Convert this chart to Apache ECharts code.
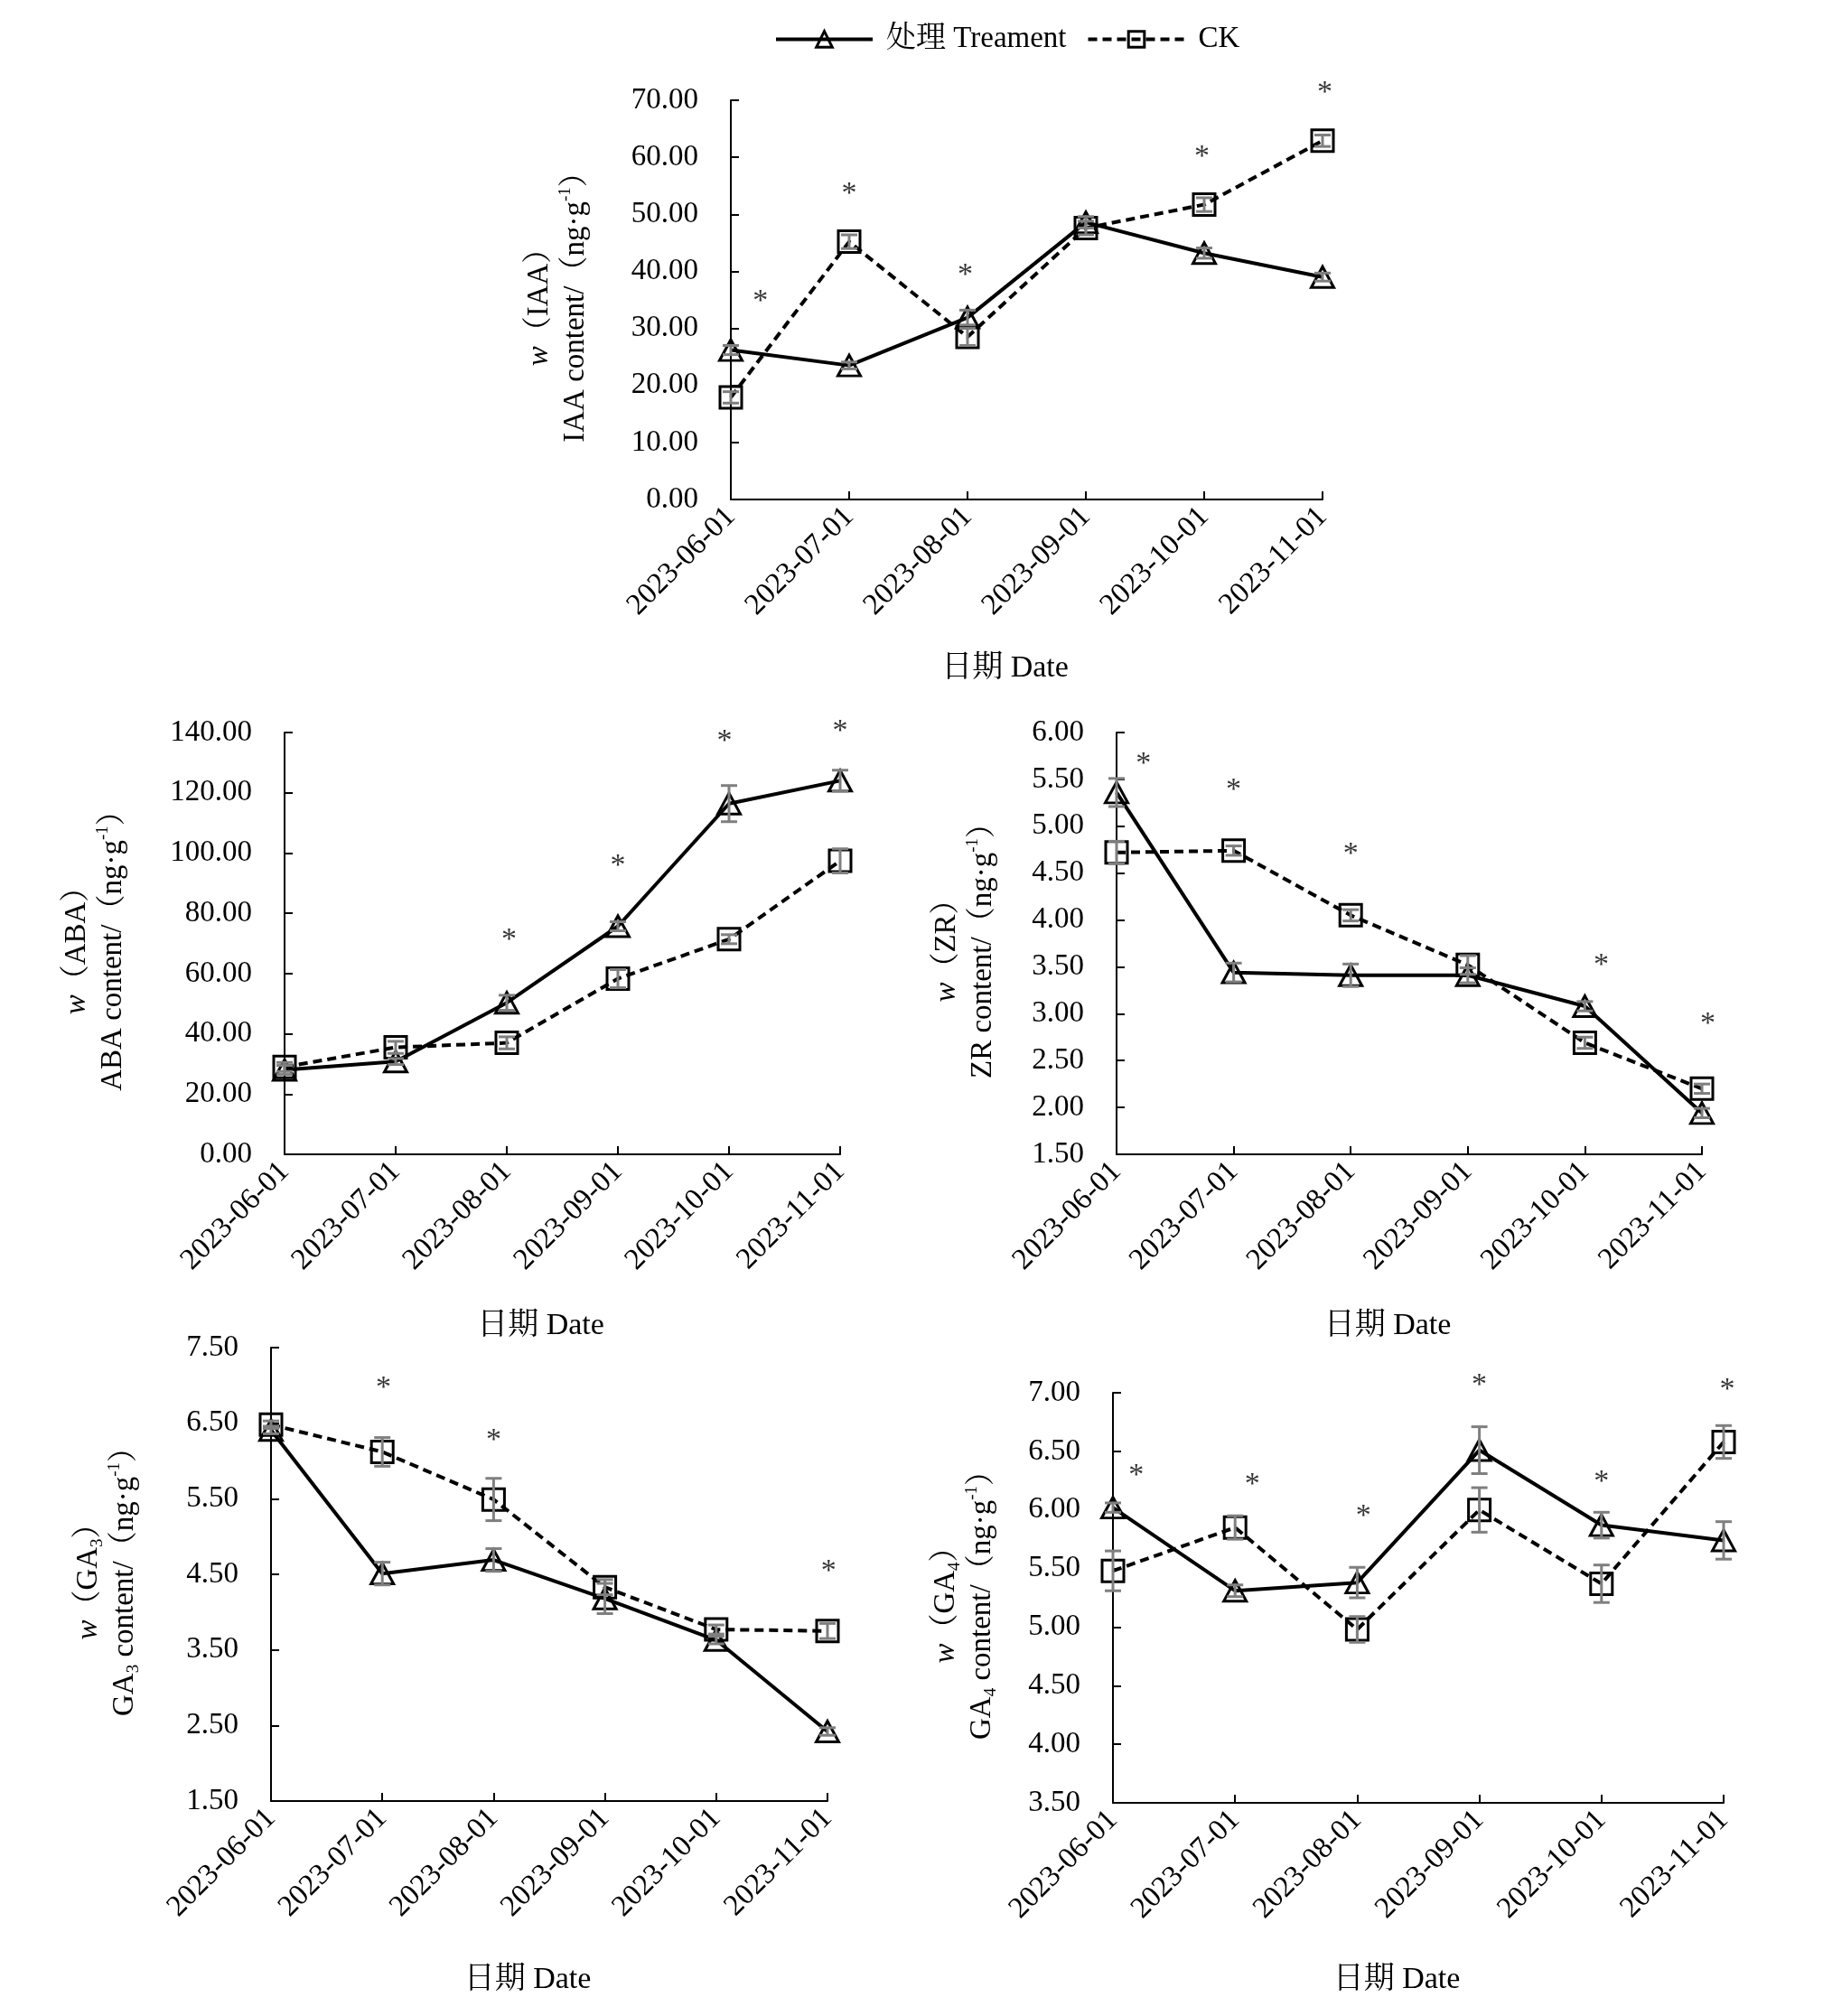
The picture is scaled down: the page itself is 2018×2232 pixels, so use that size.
<!DOCTYPE html>
<html>
<head>
<meta charset="utf-8">
<title>植物激素含量变化</title>
<script src="https://cdn.jsdelivr.net/npm/echarts@6/dist/echarts.min.js"></script>
<style>
  html, body { margin: 0; padding: 0; background: #fff; }
  #main { width: 2018px; height: 2232px; }
</style>
</head>
<body>
<div id="main"></div>
<script>
// 日期
var dates = ['2023-06-01', '2023-07-01', '2023-08-01', '2023-09-01', '2023-10-01', '2023-11-01'];

// IAA
var iaaTreat = [26.2, 23.5, 31.9, 48.6, 43.2, 39.0];
var iaaTreatErr = [0.8, 0.6, 1.3, 1.0, 0.9, 0.7];
var iaaCk = [17.9, 45.2, 28.5, 47.6, 51.7, 62.9];
var iaaCkErr = [1.0, 1.2, 1.5, 1.2, 1.2, 1.0];
var iaaStarX = [0.25, 1.0, 1.98, 3.98, 5.02];
var iaaStarY = [35.7, 54.5, 40.2, 60.9, 72.2];

// ABA
var abaTreat = [28.0, 30.8, 50.3, 75.7, 116.4, 124.0];
var abaTreatErr = [1.5, 1.0, 2.5, 1.5, 6.0, 3.5];
var abaCk = [29.0, 35.5, 37.0, 58.3, 71.4, 97.4];
var abaCkErr = [1.5, 2.0, 2.0, 3.0, 1.5, 4.0];
var abaStarX = [2.02, 3.0, 3.96, 5.0];
var abaStarY = [72.8, 97.4, 138.8, 142.2];

// ZR
var zrTreat = [5.36, 3.44, 3.41, 3.41, 3.08, 1.94];
var zrTreatErr = [0.15, 0.10, 0.12, 0.08, 0.05, 0.05];
var zrCk = [4.72, 4.74, 4.05, 3.52, 2.69, 2.20];
var zrCkErr = [0.12, 0.05, 0.06, 0.10, 0.06, 0.05];
var zrStarX = [0.23, 1.0, 2.0, 4.14, 5.05];
var zrStarY = [5.72, 5.44, 4.76, 3.57, 2.94];

// GA3
var ga3Treat = [6.41, 4.51, 4.69, 4.18, 3.63, 2.42];
var ga3TreatErr = [0.05, 0.15, 0.15, 0.20, 0.05, 0.05];
var ga3Ck = [6.48, 6.12, 5.49, 4.33, 3.77, 3.75];
var ga3CkErr = [0.05, 0.19, 0.28, 0.10, 0.06, 0.10];
var ga3StarX = [1.01, 2.0, 5.01];
var ga3StarY = [7.03, 6.34, 4.61];
var ga3Ticks = [1.5, 2.5, 3.5, 4.5, 5.5, 6.5, 7.5];

// GA4
var ga4Treat = [6.02, 5.31, 5.38, 6.51, 5.87, 5.74];
var ga4TreatErr = [0.04, 0.05, 0.13, 0.20, 0.11, 0.16];
var ga4Ck = [5.48, 5.85, 4.98, 6.00, 5.37, 6.58];
var ga4CkErr = [0.17, 0.10, 0.11, 0.19, 0.16, 0.14];
var ga4StarX = [0.19, 1.14, 2.05, 3.0, 4.0, 5.03];
var ga4StarY = [6.34, 6.26, 5.99, 7.11, 6.28, 7.07];

var FONT = '"Liberation Serif", "Times New Roman", "Noto Serif CJK SC", "Noto Sans CJK SC", serif';
var TREAT = '处理 Treament';
var CK = 'CK';

var myChart = echarts.init(document.getElementById('main'));

//误差线
function renderErr(params, api) {
    var x = api.value(0), y = api.value(1), e = api.value(2);
    var top = api.coord([x, y + e]);
    var bot = api.coord([x, y - e]);
    var w = 9;
    var st = { stroke: '#7f7f7f', lineWidth: 3 };
    return {
        type: 'group',
        children: [
            { type: 'line', shape: { x1: top[0], y1: top[1], x2: bot[0], y2: bot[1] }, style: st },
            { type: 'line', shape: { x1: top[0] - w, y1: top[1], x2: top[0] + w, y2: top[1] }, style: st },
            { type: 'line', shape: { x1: bot[0] - w, y1: bot[1], x2: bot[0] + w, y2: bot[1] }, style: st }
        ]
    };
}

var grids = [], xAxes = [], yAxes = [], series = [];

var richName = {
    i: { fontStyle: 'italic', fontSize: 33, fontFamily: FONT, lineHeight: 40 },
    sup: { fontSize: 19, fontFamily: FONT, verticalAlign: 'top', lineHeight: 40 },
    sub: { fontSize: 19, fontFamily: FONT, verticalAlign: 'bottom', lineHeight: 36 }
};

function addPanel(p) {
    var gi = grids.length;
    grids.push({ left: p.left, top: p.top, width: p.right - p.left, height: p.bottom - p.top, outerBoundsMode: 'none' });

    // 日期轴
    xAxes.push({
        type: 'category', gridIndex: gi, data: dates, boundaryGap: false,
        name: '日期 Date', nameLocation: 'middle', nameGap: p.xGap,
        nameTextStyle: { fontFamily: FONT, fontSize: 34, color: '#000', padding: [0, 48, 0, 0] },
        axisLine: { lineStyle: { color: '#000', width: 2 } },
        axisTick: { inside: true, length: 9, lineStyle: { color: '#000', width: 2 }, alignWithLabel: true },
        axisLabel: { interval: 0, rotate: 45, margin: 14, fontFamily: FONT, fontSize: 33, color: '#000' },
        splitLine: { show: false }
    });
    // 星号定位轴
    var starAxis = xAxes.length;
    xAxes.push({ type: 'value', gridIndex: gi, min: 0, max: 5, show: false });

    var yAx = {
        type: 'value', gridIndex: gi, min: p.min, max: p.max, interval: p.interval,
        name: p.yName, nameLocation: 'middle', nameGap: p.yGap, nameRotate: 90,
        nameTextStyle: { fontFamily: FONT, fontSize: 33, color: '#000', lineHeight: 40, rich: richName },
        axisLine: { show: true, lineStyle: { color: '#000', width: 2 } },
        axisTick: { show: true, inside: true, length: 9, lineStyle: { color: '#000', width: 2 } },
        axisLabel: { margin: 36, fontFamily: FONT, fontSize: 33, color: '#000', formatter: function (v) { return v.toFixed(2); } },
        splitLine: { show: false }
    };
    if (p.ticks) {
        yAx.axisLabel.customValues = p.ticks;
        yAx.axisTick.customValues = p.ticks;
    }
    var yi = yAxes.length;
    yAxes.push(yAx);

    series.push({
        name: TREAT, type: 'line', xAxisIndex: starAxis - 1, yAxisIndex: yi, data: p.treat,
        symbol: 'triangle', symbolSize: [25, 23],
        lineStyle: { color: '#000', width: 4 },
        itemStyle: { color: 'rgba(255,255,255,0)', borderColor: '#000', borderWidth: 3 },
        z: 2
    });
    series.push({
        name: CK, type: 'line', xAxisIndex: starAxis - 1, yAxisIndex: yi, data: p.ck,
        symbol: 'rect', symbolSize: 24,
        lineStyle: { color: '#000', width: 4, type: [10, 6] },
        itemStyle: { color: 'rgba(255,255,255,0)', borderColor: '#000', borderWidth: 3 },
        z: 2
    });
    series.push({
        type: 'custom', xAxisIndex: starAxis - 1, yAxisIndex: yi, renderItem: renderErr,
        data: p.treat.map(function (v, i) { return [i, v, p.treatErr[i]]; }),
        encode: { x: 0, y: 1 }, z: 5, silent: true
    });
    series.push({
        type: 'custom', xAxisIndex: starAxis - 1, yAxisIndex: yi, renderItem: renderErr,
        data: p.ck.map(function (v, i) { return [i, v, p.ckErr[i]]; }),
        encode: { x: 0, y: 1 }, z: 5, silent: true
    });
    series.push({
        type: 'scatter', xAxisIndex: starAxis, yAxisIndex: yi, clip: false,
        data: p.starX.map(function (x, i) { return [x, p.starY[i]]; }),
        symbolSize: 1, itemStyle: { color: 'rgba(0,0,0,0)' },
        label: { show: true, position: 'inside', formatter: '*', offset: [0, 6], fontFamily: FONT, fontSize: 34, color: '#000' },
        silent: true, z: 6
    });
}

addPanel({
    left: 809, top: 111, right: 1464, bottom: 553, min: 0, max: 70, interval: 10,
    yName: '{i|w}（IAA）\nIAA content/（ng·g{sup|-1}）', yGap: 152, xGap: 170,
    treat: iaaTreat, treatErr: iaaTreatErr, ck: iaaCk, ckErr: iaaCkErr, starX: iaaStarX, starY: iaaStarY
});
addPanel({
    left: 315, top: 811, right: 930, bottom: 1278, min: 0, max: 140, interval: 20,
    yName: '{i|w}（ABA）\nABA content/（ng·g{sup|-1}）', yGap: 170, xGap: 173,
    treat: abaTreat, treatErr: abaTreatErr, ck: abaCk, ckErr: abaCkErr, starX: abaStarX, starY: abaStarY
});
addPanel({
    left: 1236, top: 811, right: 1884, bottom: 1278, min: 1.5, max: 6, interval: 0.5,
    yName: '{i|w}（ZR）\nZR content/（ng·g{sup|-1}）', yGap: 128, xGap: 173,
    treat: zrTreat, treatErr: zrTreatErr, ck: zrCk, ckErr: zrCkErr, starX: zrStarX, starY: zrStarY
});
addPanel({
    left: 300, top: 1492, right: 916, bottom: 1994, min: 1.5, max: 7.5, interval: 0.5, ticks: ga3Ticks,
    yName: '{i|w}（GA{sub|3}）\nGA{sub|3} content/（ng·g{sup|-1}）', yGap: 142, xGap: 181,
    treat: ga3Treat, treatErr: ga3TreatErr, ck: ga3Ck, ckErr: ga3CkErr, starX: ga3StarX, starY: ga3StarY
});
addPanel({
    left: 1232, top: 1542, right: 1908, bottom: 1996, min: 3.5, max: 7, interval: 0.5,
    yName: '{i|w}（GA{sub|4}）\nGA{sub|4} content/（ng·g{sup|-1}）', yGap: 125, xGap: 179,
    treat: ga4Treat, treatErr: ga4TreatErr, ck: ga4Ck, ckErr: ga4CkErr, starX: ga4StarX, starY: ga4StarY
});

var option = {
    backgroundColor: '#fff',
    animation: false,
    legend: {
        data: [TREAT, CK], left: 852, top: 22, itemWidth: 107, itemHeight: 22, itemGap: 22,
        selectedMode: false,
        lineStyle: { width: 4 },
        itemStyle: { borderWidth: 3 },
        textStyle: { fontFamily: FONT, fontSize: 33, color: '#000', padding: [0, 0, 0, 10] }
    },
    grid: grids,
    xAxis: xAxes,
    yAxis: yAxes,
    series: series
};
myChart.setOption(option);
</script>
</body>
</html>
